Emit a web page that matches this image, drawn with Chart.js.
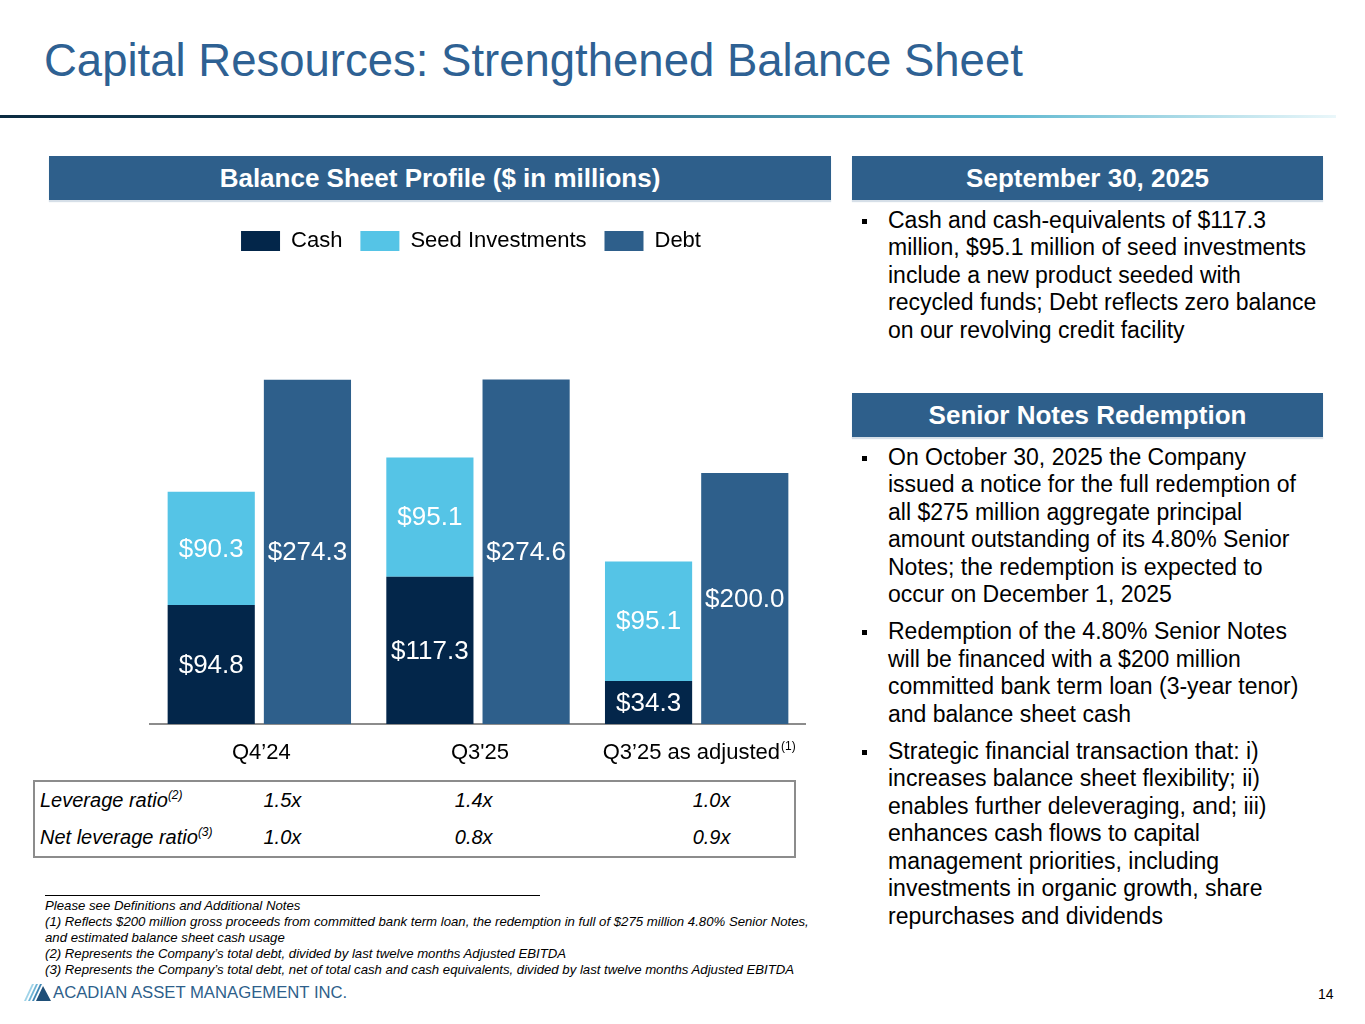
<!DOCTYPE html>
<html>
<head>
<meta charset="utf-8">
<script src="https://cdn.jsdelivr.net/npm/chart.js@4.4.1/dist/chart.umd.min.js"></script>
<style>
  body { margin: 0; background: #fff; font-family: "Liberation Sans", Arial, sans-serif; }
  #slide { position: relative; width: 1365px; height: 1024px; overflow: hidden; }
  .abs { position: absolute; white-space: nowrap; }
  .title { left: 44px; top: 38px; font-size: 45.5px; line-height: 1; color: #2E6193; }
  .rule { left: 0; top: 115px; width: 1336px; height: 3px;
    background: linear-gradient(to right, #0b2b40 0%, #1f5470 35%, #5fb8d0 75%, rgba(150,215,230,0.2) 100%); }
  .hdr { background: #2E5F8B; color: #fff; font-weight: bold; font-size: 26px; text-align: center;
    line-height: 44px; height: 44px; box-shadow: 0 2px 1px #d6dfe8; }
  .bullets { left: 862px; font-size: 23px; line-height: 27.4px; color: #000; }
  .bullets p { margin: 0 0 10px 0; padding-left: 26px; position: relative; }
  .bullets p::before { content: ""; position: absolute; left: 0; top: 12px; width: 5px; height: 5px; background: #000; }
  #chartBox { left: 135px; top: 212px; width: 671px; height: 560px; }
  table.ratios { left: 33px; top: 780px; width: 763px; height: 78px; border: 2px solid #8c8c8c;
    border-collapse: collapse; font-style: italic; font-size: 20px; box-sizing: border-box; }
  table.ratios td { padding: 0; height: 37px; vertical-align: middle; }
  sup { font-size: 0.6em; line-height: 0; vertical-align: 0.7em; }
  .fnline { left: 45px; top: 895px; width: 495px; height: 1px; background: #000; }
  .notes { left: 45px; top: 898px; font-size: 13.2px; line-height: 16px; font-style: italic; color: #000; }
  .logo { left: 53px; top: 985px; font-size: 16.7px; line-height: 1; color: #2E5F8B; }
  .page { left: 1318px; top: 987px; font-size: 14px; line-height: 1; color: #000; }
</style>
</head>
<body>
<div id="slide">
  <div class="abs title">Capital Resources: Strengthened Balance Sheet</div>
  <div class="abs rule"></div>

  <div class="abs hdr" style="left:49px; top:156px; width:782px;">Balance Sheet Profile ($ in millions)</div>
  <div class="abs hdr" style="left:852px; top:156px; width:471px;">September 30, 2025</div>
  <div class="abs hdr" style="left:852px; top:393px; width:471px;">Senior Notes Redemption</div>

  <div class="abs bullets" style="top:207px;">
    <p>Cash and cash-equivalents of $117.3<br>million, $95.1 million of seed investments<br>include a new product seeded with<br>recycled funds; Debt reflects zero balance<br>on our revolving credit facility</p>
  </div>
  <div class="abs bullets" style="top:444px;">
    <p>On October 30, 2025 the Company<br>issued a notice for the full redemption of<br>all $275 million aggregate principal<br>amount outstanding of its 4.80% Senior<br>Notes; the redemption is expected to<br>occur on December 1, 2025</p>
    <p>Redemption of the 4.80% Senior Notes<br>will be financed with a $200 million<br>committed bank term loan (3-year tenor)<br>and balance sheet cash</p>
    <p>Strategic financial transaction that: i)<br>increases balance sheet flexibility; ii)<br>enables further deleveraging, and; iii)<br>enhances cash flows to capital<br>management priorities, including<br>investments in organic growth, share<br>repurchases and dividends</p>
  </div>

  <div class="abs" id="chartBox"><canvas id="balanceChart"></canvas></div>

  <table class="abs ratios" id="ratioTable"></table>

  <div class="abs fnline"></div>
  <div class="abs notes">
    Please see Definitions and Additional Notes<br>
    (1) Reflects $200 million gross proceeds from committed bank term loan, the redemption in full of $275 million 4.80% Senior Notes,<br>
    and estimated balance sheet cash usage<br>
    (2) Represents the Company’s total debt, divided by last twelve months Adjusted EBITDA<br>
    (3) Represents the Company’s total debt, net of total cash and cash equivalents, divided by last twelve months Adjusted EBITDA
  </div>

  <svg class="abs" style="left:24px; top:984px;" width="28" height="17" viewBox="0 0 28 17">
    <polygon points="0,17 8,0 10,0 2,17" fill="#9fd3e8"/>
    <polygon points="4,17 12,0 14,0 6,17" fill="#6fb5d6"/>
    <polygon points="8,17 16,0 18,0 10,17" fill="#3f86b4"/>
    <polygon points="12,17 19,2 27,17" fill="#1f4f78"/>
  </svg>
  <div class="abs logo">ACADIAN ASSET MANAGEMENT INC.</div>
  <div class="abs page">14</div>
</div>

<script>
// chart values ($ in millions)
const categories = ['Q4’24', "Q3'25", 'Q3’25 as adjusted'];
const categoryNotes = ['', '', '(1)'];
const cash = [94.8, 117.3, 34.3];
const seedInvestments = [90.3, 95.1, 95.1];
const debt = [274.3, 274.6, 200.0];

// ratio table rows
const leverageRatio = ['1.5x', '1.4x', '1.0x'];
const netLeverageRatio = ['1.0x', '0.8x', '0.9x'];

const FONT = '"Liberation Sans", Arial, sans-serif';

// build the ratio table under the chart
const table = document.getElementById('ratioTable');
const rows = [
    ['Leverage ratio', '(2)', leverageRatio],
    ['Net leverage ratio', '(3)', netLeverageRatio]
];
const colWidths = [224, 193, 240, 102];
rows.forEach(([label, note, vals]) => {
    const tr = document.createElement('tr');
    const td = document.createElement('td');
    td.style.paddingLeft = '5px';
    td.style.width = colWidths[0] + 'px';
    td.innerHTML = label + '<sup>' + note + '</sup>';
    tr.appendChild(td);
    vals.forEach((v, i) => {
        const c = document.createElement('td');
        c.style.width = colWidths[i + 1] + 'px';
        c.textContent = v;
        tr.appendChild(c);
    });
    table.appendChild(tr);
});

// white value labels centred in every bar segment
const valueLabels = {
    id: 'valueLabels',
    afterDatasetsDraw(chart) {
        const ctx = chart.ctx;
        ctx.save();
        ctx.font = '26px ' + FONT;
        ctx.fillStyle = '#fff';
        ctx.textAlign = 'center';
        ctx.textBaseline = 'middle';
        chart.data.datasets.forEach((ds, i) => {
            chart.getDatasetMeta(i).data.forEach((bar, j) => {
                ctx.fillText('$' + ds.data[j].toFixed(1), bar.x, (bar.y + bar.base) / 2 + 1);
            });
        });
        ctx.restore();
    }
};

// category labels under the axis, with a superscript note
const categoryLabels = {
    id: 'categoryLabels',
    afterDraw(chart) {
        const ctx = chart.ctx;
        const x = chart.scales.x;
        const y = chart.chartArea.bottom + 35;
        ctx.save();
        ctx.fillStyle = '#000';
        ctx.textBaseline = 'alphabetic';
        ctx.textAlign = 'left';
        categories.forEach((cat, i) => {
            ctx.font = '22px ' + FONT;
            const w1 = ctx.measureText(cat).width;
            ctx.font = '12px ' + FONT;
            const w2 = categoryNotes[i] ? ctx.measureText(categoryNotes[i]).width : 0;
            const cx = x.getPixelForValue(i) + 2;
            const left = cx - (w1 + w2) / 2;
            ctx.font = '22px ' + FONT;
            ctx.fillText(cat, left, y);
            if (w2) {
                ctx.font = '12px ' + FONT;
                ctx.fillText(categoryNotes[i], left + w1 + 1, y - 9);
            }
        });
        ctx.restore();
    }
};

// fixed legend height so the plot area starts where the reference does,
// and nudge the legend a little left of the plot centre
const legendPlace = {
    id: 'legendPlace',
    beforeInit(chart) {
        const fit = chart.legend.fit;
        chart.legend.fit = function () {
            fit.bind(chart.legend)();
            this.height = 128;
        };
    },
    afterUpdate(chart) {
        chart.legend.left -= 7;
        chart.legend.right -= 7;
    }
};

const ctx = document.getElementById('balanceChart').getContext('2d');
const chart = new Chart(ctx, {
    type: 'bar',
    data: {
        labels: categories,
        datasets: [
            { label: 'Cash', data: cash, backgroundColor: '#03264A', stack: 'liquid' },
            { label: 'Seed Investments', data: seedInvestments, backgroundColor: '#55C4E6', stack: 'liquid' },
            { label: 'Debt', data: debt, backgroundColor: '#2E5F8B', stack: 'debt' }
        ]
    },
    options: {
        responsive: true,
        maintainAspectRatio: false,
        animation: false,
        categoryPercentage: 0.88,
        barPercentage: 0.906,
        layout: { padding: { left: 15, right: 0, top: 0, bottom: 40 } },
        scales: {
            x: {
                stacked: true,
                grid: { display: false },
                ticks: { display: false },
                border: { display: true, color: '#8c8c8c', width: 2 }
            },
            y: {
                stacked: true,
                display: false,
                min: 0,
                max: 306
            }
        },
        plugins: {
            tooltip: { enabled: false },
            legend: {
                position: 'top',
                labels: {
                    boxWidth: 39,
                    boxHeight: 20,
                    padding: 18,
                    color: '#000',
                    font: { size: 22, family: FONT }
                }
            }
        }
    },
    plugins: [valueLabels, categoryLabels, legendPlace]
});
</script>
</body>
</html>
